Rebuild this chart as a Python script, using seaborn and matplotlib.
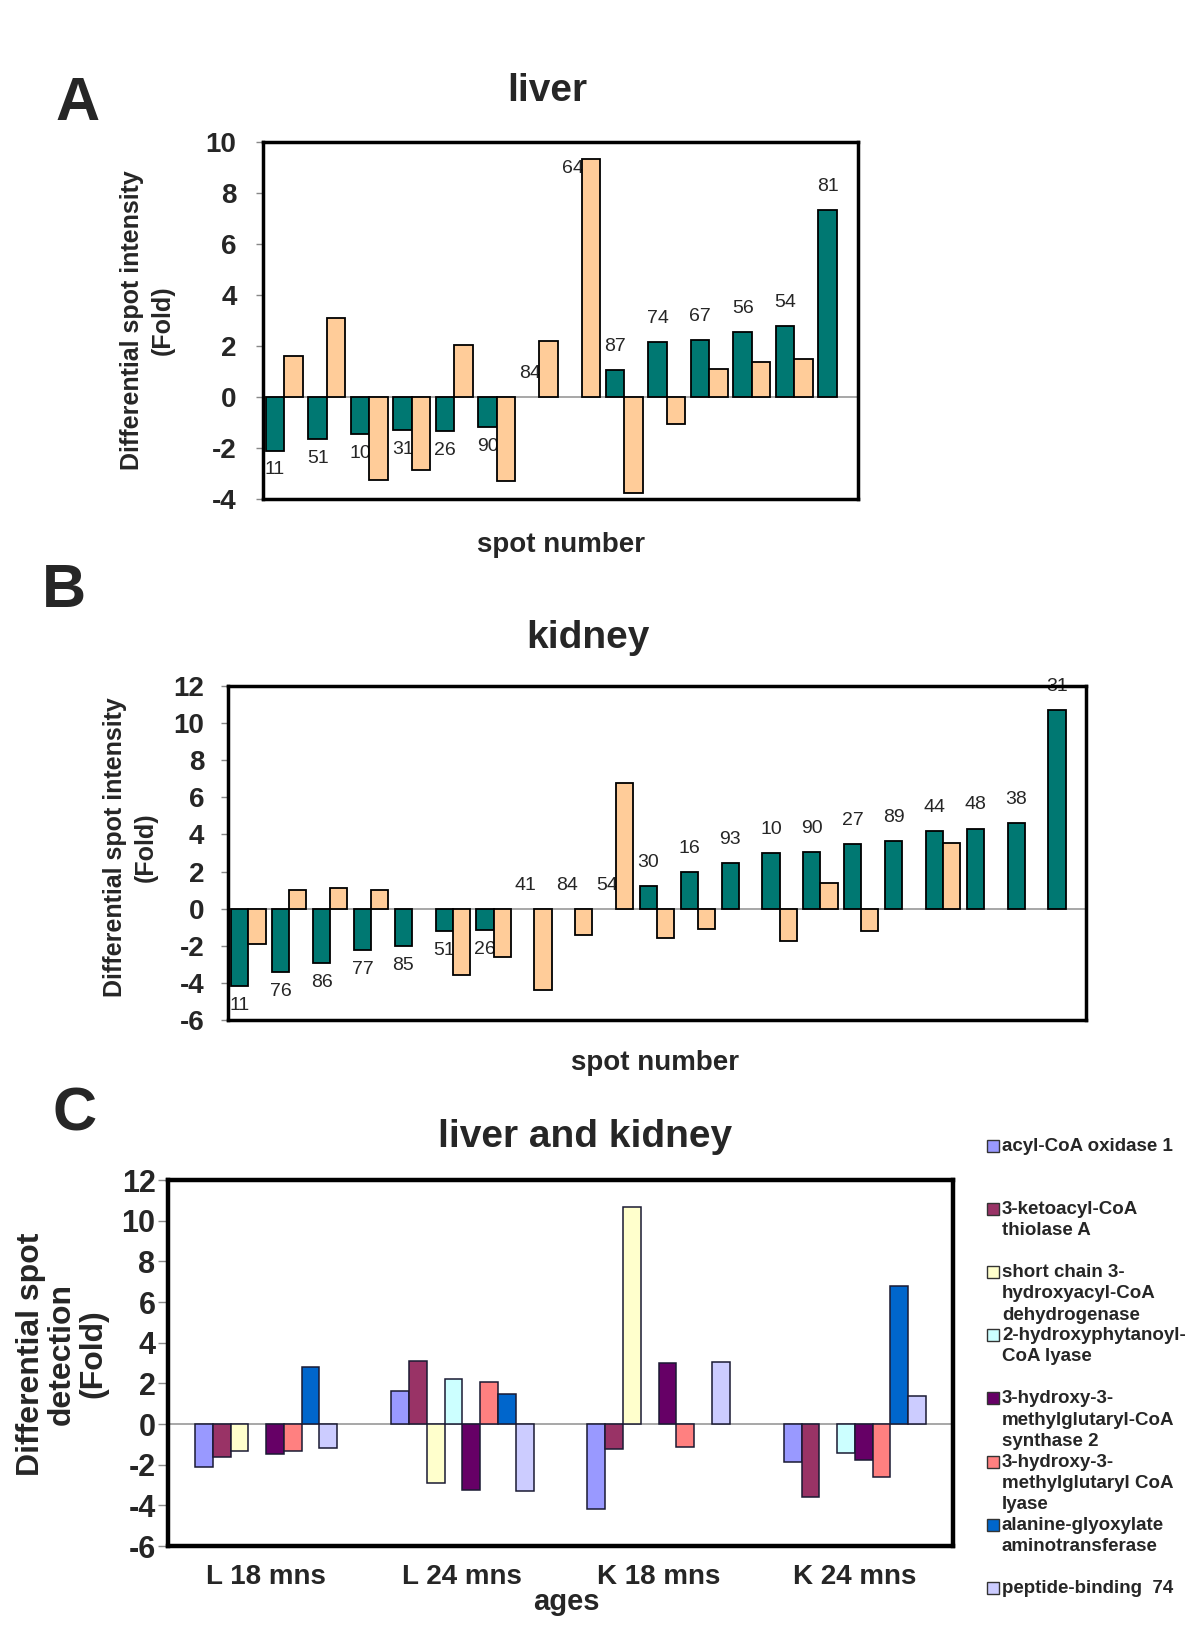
import numpy as np
import pandas as pd
import seaborn as sns
import matplotlib.pyplot as plt
from matplotlib.patches import Rectangle

# A - liver, fold change per spot (teal = 18 mns, peach = 24 mns)
liver_spots = ['11', '51', '10', '31', '26', '90', '84', '64', '87', '74', '67', '56', '54', '81']
liver_18 = [-2.1, -1.63, -1.47, -1.31, -1.33, -1.19, np.nan, np.nan, 1.05, 2.14, 2.25, 2.53, 2.78, 7.33]
liver_24 = [1.62, 3.1, -3.25, -2.88, 2.05, -3.28, 2.2, 9.34, -3.77, -1.05, 1.1, 1.36, 1.49, np.nan]

# B - kidney
kidney_spots = ['11', '76', '86', '77', '85', '51', '26', '41', '84', '54', '30', '16', '93', '10', '90',
                '27', '89', '44', '48', '38', '31']
kidney_18 = [-4.17, -3.4, -2.93, -2.24, -1.99, -1.22, -1.14, np.nan, np.nan, np.nan, 1.21, 1.95, 2.46,
             3.0, 3.06, 3.49, 3.65, 4.19, 4.32, 4.59, 10.68]
kidney_24 = [-1.89, 1.03, 1.12, 1.03, np.nan, -3.57, -2.62, -4.41, -1.44, 6.78, -1.59, -1.12, np.nan,
             -1.75, 1.36, -1.23, np.nan, 3.56, np.nan, np.nan, np.nan]

# C - liver and kidney, per protein
ages = ['L 18 mns', 'L 24 mns', 'K 18 mns', 'K 24 mns']
proteins = ['acyl-CoA oxidase 1',
            '3-ketoacyl-CoA\nthiolase A',
            'short chain 3-\nhydroxyacyl-CoA\ndehydrogenase',
            '2-hydroxyphytanoyl-\nCoA lyase',
            '3-hydroxy-3-\nmethylglutaryl-CoA\nsynthase 2',
            '3-hydroxy-3-\nmethylglutaryl CoA\nlyase',
            'alanine-glyoxylate\naminotransferase',
            'peptide-binding  74']
acox1 = [-2.1, 1.62, -4.17, -1.87]
thiolase = [-1.63, 3.1, -1.22, -3.57]
schad = [-1.31, -2.88, 10.68, np.nan]
hacl1 = [np.nan, 2.2, np.nan, -1.44]
hmgcs2 = [-1.47, -3.25, 3.0, -1.77]
hmgcl = [-1.33, 2.05, -1.14, -2.62]
agxt = [2.78, 1.49, np.nan, 6.78]
pep74 = [-1.19, -3.28, 3.06, 1.36]
protein_colors = ['#9999FF', '#993366', '#FFFFCC', '#CCFFFF', '#660066', '#FF8080', '#0066CC', '#CCCCFF']

teal = '#007872'
peach = '#FFCC99'

sns.set_style('white')
plt.rcParams['font.family'] = ['Liberation Sans', 'DejaVu Sans']
plt.rcParams['axes.unicode_minus'] = False

W, H = 1200, 1626
fig = plt.figure(figsize=(W / 100, H / 100), dpi=100)


def fx(x):
    return x / W


def fy(y):
    return 1 - y / H


def px_axes(left, top, right, bottom):
    return fig.add_axes([left / W, 1 - bottom / H, (right - left) / W, (bottom - top) / H])


def frame(ax, lw):
    for s in ax.spines.values():
        s.set_visible(True)
        s.set_color('black')
        s.set_linewidth(lw)
    ax.axhline(0, color='#a0a0a0', lw=1.3, zorder=0.8)
    ax.set_xlabel('')
    ax.set_ylabel('')


def spot_panel(ax, spots, v18, v24, ylim, width, tick_pad, special=None):
    n = len(spots)
    df = pd.DataFrame({'spot': spots * 2, 'age': ['18'] * n + ['24'] * n, 'fold': v18 + v24}).dropna()
    sns.barplot(data=df, x='spot', y='fold', hue='age', order=spots, hue_order=['18', '24'],
                palette={'18': teal, '24': peach}, saturation=1, width=width, edgecolor='black',
                linewidth=1.3, errorbar=None, legend=False, ax=ax)
    ax.set_ylim(*ylim)
    ax.set_yticks(range(ylim[0], ylim[1] + 1, 2))
    ax.set_xlim(-0.5, n - 0.5)
    ax.set_xticks([])
    ax.tick_params(axis='y', left=True, length=5, width=1, color='#888888', direction='out',
                   pad=tick_pad, labelsize=20)
    for t in ax.get_yticklabels():
        t.set_fontweight('bold')
    frame(ax, 2.5)
    for i, s in enumerate(spots):
        v = v18[i]
        x = i - width / 4
        anchor = 0 if np.isnan(v) else v
        off = -14 if anchor < 0 else 17
        if special is not None and s == special:
            anchor = v24[i]
            off = -7
        ax.annotate(s, (x, anchor), xytext=(0, off), textcoords='offset points', ha='center',
                    va='center', fontsize=14, zorder=0.9, annotation_clip=False)


# Panel A
axA = px_axes(263, 142, 858, 499)
spot_panel(axA, liver_spots, liver_18, liver_24, (-4, 10), 0.86, 14, special='64')

# Panel B
axB = px_axes(228, 686, 1086, 1020)
spot_panel(axB, kidney_spots, kidney_18, kidney_24, (-6, 12), 0.84, 12)

# Panel C
axC = px_axes(168, 1180, 953, 1546)
series_c = [acox1, thiolase, schad, hacl1, hmgcs2, hmgcl, agxt, pep74]
df_c = pd.DataFrame({'age': ages * len(proteins),
                     'protein': [p for p in proteins for _ in ages],
                     'fold': [v for s in series_c for v in s]}).dropna()
sns.barplot(data=df_c, x='age', y='fold', hue='protein', order=ages, hue_order=proteins,
            palette=dict(zip(proteins, protein_colors)), saturation=1, width=0.725,
            edgecolor='#1a1a33', linewidth=1.1, errorbar=None, legend=False, ax=axC)
axC.set_ylim(-6, 12)
axC.set_yticks(range(-6, 13, 2))
axC.set_xlim(-0.5, 3.5)
axC.tick_params(axis='y', left=True, length=7, width=1, color='#888888', direction='out',
                pad=2, labelsize=22)
axC.tick_params(axis='x', length=0, pad=13, labelsize=20)
for t in axC.get_yticklabels():
    t.set_fontweight('bold')
for t in axC.get_xticklabels():
    t.set_fontweight('bold')
frame(axC, 3.2)

# legend of panel C
for k, (p, c) in enumerate(zip(proteins, protein_colors)):
    yc = 1146 + k * 63.1
    fig.add_artist(Rectangle((fx(987), fy(yc + 6)), 12 / W, 12 / H, transform=fig.transFigure,
                             facecolor=c, edgecolor='#333333', lw=1))
    fig.text(fx(1002), fy(yc - 8), p, fontsize=13.5, fontweight='bold', ha='left',
             va='top', linespacing=1.32)

# titles and labels
fig.text(fx(78), fy(104), 'A', fontsize=44, fontweight='bold', ha='center', va='center')
fig.text(fx(64), fy(591), 'B', fontsize=44, fontweight='bold', ha='center', va='center')
fig.text(fx(75), fy(1115), 'C', fontsize=44, fontweight='bold', ha='center', va='center')

fig.text(fx(547), fy(91), 'liver', fontsize=28, fontweight='bold', ha='center', va='center')
fig.text(fx(588), fy(638), 'kidney', fontsize=28, fontweight='bold', ha='center', va='center')
fig.text(fx(585), fy(1137), 'liver and kidney', fontsize=28, fontweight='bold', ha='center', va='center')

fig.text(fx(561), fy(545), 'spot number', fontsize=20, fontweight='bold', ha='center', va='center')
fig.text(fx(655), fy(1063), 'spot number', fontsize=20, fontweight='bold', ha='center', va='center')
fig.text(fx(566), fy(1602), 'ages', fontsize=21, fontweight='bold', ha='center', va='center')

fig.text(fx(147), fy(320), 'Differential spot intensity\n(Fold)', fontsize=18, fontweight='bold',
         rotation=90, ha='center', va='center', multialignment='center', linespacing=1.35)
fig.text(fx(130), fy(847), 'Differential spot intensity\n(Fold)', fontsize=18, fontweight='bold',
         rotation=90, ha='center', va='center', multialignment='center', linespacing=1.35)
fig.text(fx(62), fy(1354), 'Differential spot\ndetection\n(Fold)', fontsize=23, fontweight='bold',
         rotation=90, ha='center', va='center', multialignment='center', linespacing=1.05)

fig.savefig('out.png', dpi=100)
